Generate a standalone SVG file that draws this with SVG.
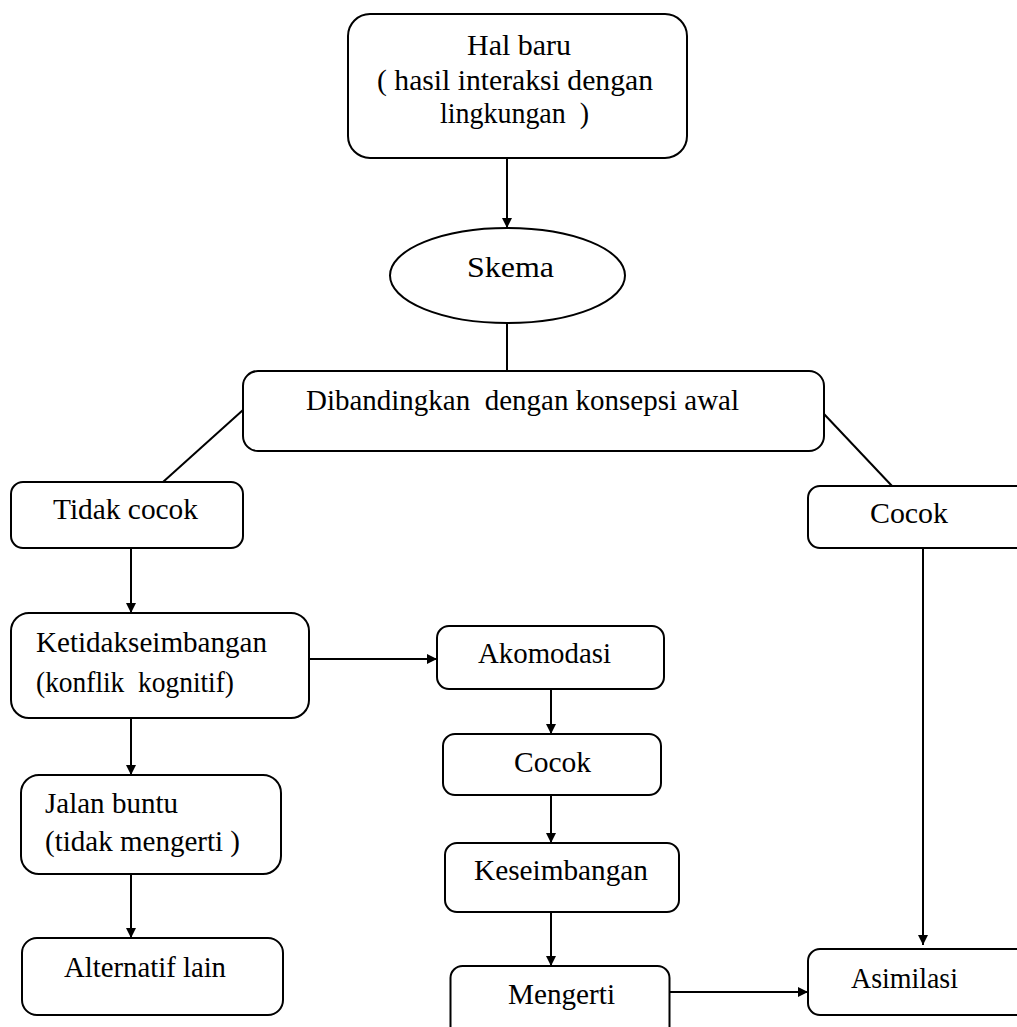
<svg xmlns="http://www.w3.org/2000/svg" width="1017" height="1027" viewBox="0 0 1017 1027">
<style>
.n{fill:#fff;stroke:#000;stroke-width:2}
.t{font-family:"Liberation Serif","Times New Roman",serif;font-size:30px;fill:#000;white-space:pre}
.c{fill:none;stroke:#000;stroke-width:2}
</style>
<defs>
<marker id="ah" markerUnits="userSpaceOnUse" markerWidth="12" markerHeight="11" refX="10" refY="5" orient="auto">
<path d="M0,0 L10,5 L0,10 z" fill="#000"/>
</marker>
</defs>
<rect width="1017" height="1027" fill="#fff"/>
<g id="connectors">
<line class="c" x1="507" y1="158" x2="507" y2="228" marker-end="url(#ah)"/>
<line class="c" x1="507" y1="323" x2="507" y2="371"/>
<line class="c" x1="243" y1="410" x2="163" y2="482"/>
<line class="c" x1="824" y1="414" x2="892" y2="486"/>
<line class="c" x1="131" y1="548" x2="131" y2="613" marker-end="url(#ah)"/>
<line class="c" x1="302" y1="659" x2="437" y2="659" marker-end="url(#ah)"/>
<line class="c" x1="131" y1="710" x2="131" y2="775" marker-end="url(#ah)"/>
<line class="c" x1="131" y1="872" x2="131" y2="938" marker-end="url(#ah)"/>
<line class="c" x1="551" y1="689" x2="551" y2="734" marker-end="url(#ah)"/>
<line class="c" x1="551" y1="795" x2="551" y2="843" marker-end="url(#ah)"/>
<line class="c" x1="551" y1="912" x2="551" y2="966" marker-end="url(#ah)"/>
<line class="c" x1="923" y1="548" x2="923" y2="945" marker-end="url(#ah)"/>
<line class="c" x1="669" y1="992" x2="808" y2="992" marker-end="url(#ah)"/>
</g>
<g id="hal-baru">
<rect class="n" x="348" y="14" width="339" height="144" rx="22"/>
<text class="t" x="467" y="55" font-size="32" textLength="104" lengthAdjust="spacingAndGlyphs">Hal baru</text>
<text class="t" x="377" y="90" font-size="32" textLength="276" lengthAdjust="spacingAndGlyphs">( hasil interaksi dengan</text>
<text class="t" x="440" y="123" font-size="32" textLength="149" lengthAdjust="spacingAndGlyphs">lingkungan  )</text>
</g>
<g id="skema">
<ellipse class="n" cx="507.5" cy="275.5" rx="117.5" ry="47.5"/>
<text class="t" x="467" y="277" font-size="32" textLength="87" lengthAdjust="spacingAndGlyphs">Skema</text>
</g>
<g id="dibandingkan">
<rect class="n" x="243" y="371" width="581" height="80" rx="15"/>
<text class="t" x="306" y="410" textLength="433" lengthAdjust="spacingAndGlyphs">Dibandingkan  dengan konsepsi awal</text>
</g>
<g id="tidak-cocok">
<rect class="n" x="11" y="482" width="232" height="66" rx="12"/>
<text class="t" x="53" y="519" textLength="145" lengthAdjust="spacingAndGlyphs">Tidak cocok</text>
</g>
<g id="cocok-kanan">
<rect class="n" x="808" y="486" width="230" height="62" rx="12"/>
<text class="t" x="870" y="523" textLength="78" lengthAdjust="spacingAndGlyphs">Cocok</text>
</g>
<g id="ketidakseimbangan">
<rect class="n" x="11" y="613" width="298" height="105" rx="18"/>
<text class="t" x="36" y="652" textLength="231" lengthAdjust="spacingAndGlyphs">Ketidakseimbangan</text>
<text class="t" x="36" y="692" textLength="198" lengthAdjust="spacingAndGlyphs">(konflik  kognitif)</text>
</g>
<g id="akomodasi">
<rect class="n" x="437" y="626" width="227" height="63" rx="12"/>
<text class="t" x="478" y="663" textLength="133" lengthAdjust="spacingAndGlyphs">Akomodasi</text>
</g>
<g id="jalan-buntu">
<rect class="n" x="21" y="775" width="260" height="99" rx="18"/>
<text class="t" x="45" y="813" textLength="133" lengthAdjust="spacingAndGlyphs">Jalan buntu</text>
<text class="t" x="45" y="851" textLength="195" lengthAdjust="spacingAndGlyphs">(tidak mengerti )</text>
</g>
<g id="alternatif-lain">
<rect class="n" x="22" y="938" width="261" height="77" rx="15"/>
<text class="t" x="64" y="977" textLength="162" lengthAdjust="spacingAndGlyphs">Alternatif lain</text>
</g>
<g id="cocok-tengah">
<rect class="n" x="443" y="734" width="218" height="61" rx="12"/>
<text class="t" x="514" y="772" textLength="77" lengthAdjust="spacingAndGlyphs">Cocok</text>
</g>
<g id="keseimbangan">
<rect class="n" x="445" y="843" width="234" height="69" rx="12"/>
<text class="t" x="474" y="880" textLength="174" lengthAdjust="spacingAndGlyphs">Keseimbangan</text>
</g>
<g id="mengerti">
<rect class="n" x="450.5" y="966" width="219" height="80" rx="12"/>
<text class="t" x="508" y="1004" textLength="107" lengthAdjust="spacingAndGlyphs">Mengerti</text>
</g>
<g id="asimilasi">
<rect class="n" x="808" y="949" width="230" height="66" rx="12"/>
<text class="t" x="851" y="988" textLength="107" lengthAdjust="spacingAndGlyphs">Asimilasi</text>
</g>
</svg>
